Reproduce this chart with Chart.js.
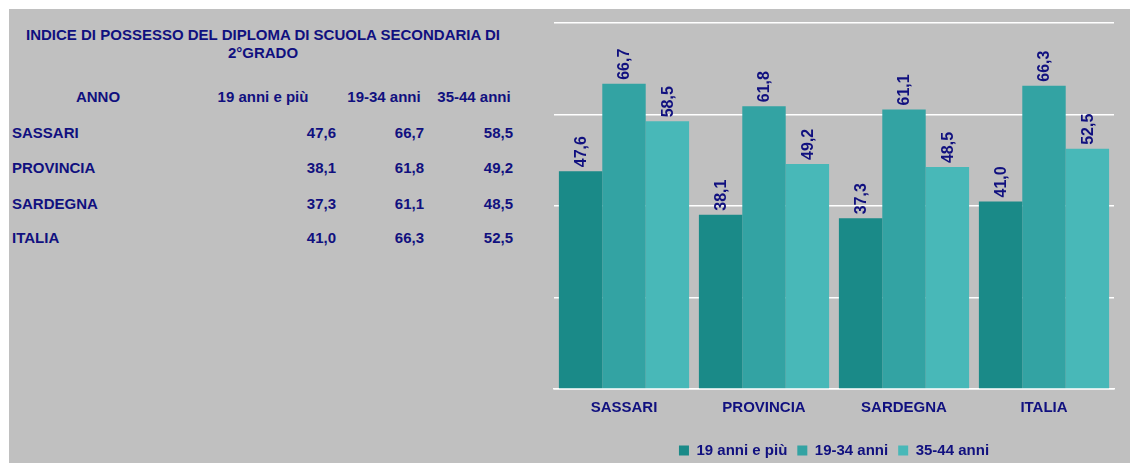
<!DOCTYPE html>
<html>
<head>
<meta charset="utf-8">
<script src="https://cdn.jsdelivr.net/npm/chart.js@4/dist/chart.umd.min.js"></script>
<style>
  html, body { margin: 0; padding: 0; background: #ffffff; }
  body { width: 1130px; height: 463px; position: relative; overflow: hidden; }
  #panel { position: absolute; left: 9px; top: 9px; width: 1121px; height: 454px; background: #c0c0c0; }
  .t { position: absolute; font-family: "Liberation Sans", Arial, sans-serif; font-weight: bold; font-size: 15px; color: #10107f; white-space: nowrap; line-height: 18px; }
  #chartWrap { position: absolute; left: 530px; top: 9px; width: 600px; height: 459px; }
</style>
</head>
<body>
<div id="panel"></div>
<div id="table"></div>
<div id="chartWrap"><canvas id="c" width="600" height="459"></canvas></div>
<script>
const title1 = "INDICE DI POSSESSO DEL DIPLOMA DI SCUOLA SECONDARIA DI";
const title2 = "2°GRADO";
const rowHeader = "ANNO";
const categories = ["SASSARI", "PROVINCIA", "SARDEGNA", "ITALIA"];
const seriesNames = ["19 anni e più", "19-34 anni", "35-44 anni"];
const values19piu = [47.6, 38.1, 37.3, 41.0];
const values1934 = [66.7, 61.8, 61.1, 66.3];
const values3544 = [58.5, 49.2, 48.5, 52.5];
const seriesColors = ["#1a8a88", "#33a3a3", "#48b8b8"];
const yTicks = [0, 20, 40, 60, 80];

const textColor = '#10107f';
const fmt = v => v.toFixed(1).replace('.', ',');

// ---- left table (HTML text) ----
const tbl = document.getElementById('table');
function addText(txt, x, y, align) {
  const d = document.createElement('div');
  d.className = 't';
  d.textContent = txt;
  d.style.top = (y - 9) + 'px';
  if (align === 'center') { d.style.left = (x - 300) + 'px'; d.style.width = '600px'; d.style.textAlign = 'center'; }
  else if (align === 'right') { d.style.left = (x - 200) + 'px'; d.style.width = '200px'; d.style.textAlign = 'right'; }
  else { d.style.left = x + 'px'; }
  tbl.appendChild(d);
}
addText(title1, 263, 35, 'center');
addText(title2, 263, 53, 'center');
addText(rowHeader, 98, 97, 'center');
const headerCenters = [263, 384, 474];
seriesNames.forEach((s, i) => addText(s, headerCenters[i], 97, 'center'));
const rowYs = [133, 168, 204, 238];
const colRights = [336, 424, 513];
const allSeries = [values19piu, values1934, values3544];
categories.forEach((c, r) => {
  addText(c, 12, rowYs[r], 'left');
  allSeries.forEach((arr, k) => addText(fmt(arr[r]), colRights[k], rowYs[r], 'right'));
});

// ---- chart ----
const labelPlugin = {
  id: 'barLabels',
  afterDatasetsDraw(chart) {
    const ctx = chart.ctx;
    ctx.save();
    ctx.font = 'bold 16px "Liberation Sans", Arial, sans-serif';
    ctx.fillStyle = textColor;
    ctx.textAlign = 'left';
    ctx.textBaseline = 'middle';
    chart.data.datasets.forEach((ds, di) => {
      const meta = chart.getDatasetMeta(di);
      meta.data.forEach((bar, i) => {
        ctx.save();
        ctx.translate(bar.x + 1, bar.y - 4);
        ctx.rotate(-Math.PI / 2);
        ctx.fillText(fmt(ds.data[i]), 0, 0);
        ctx.restore();
      });
    });
    ctx.restore();
  }
};

new Chart(document.getElementById('c'), {
  type: 'bar',
  data: {
    labels: categories,
    datasets: allSeries.map((arr, k) => ({
      label: seriesNames[k],
      data: arr,
      backgroundColor: seriesColors[k],
      borderWidth: 0,
      categoryPercentage: 0.93,
      barPercentage: 1.0
    }))
  },
  options: {
    responsive: false,
    animation: false,
    layout: { padding: { left: 24, right: 16, top: 14, bottom: 0 } },
    scales: {
      y: {
        min: 0, max: 80,
        afterBuildTicks: axis => { axis.ticks = yTicks.map(v => ({ value: v })); },
        ticks: { display: false },
        grid: { color: '#ffffff', lineWidth: 1.5, drawTicks: false },
        border: { display: false }
      },
      x: {
        grid: { display: false, drawTicks: false },
        border: { display: true, color: '#ffffff', width: 1.5 },
        afterFit: axis => { axis.height = 44; },
        ticks: {
          color: textColor,
          padding: 10,
          font: { family: '"Liberation Sans", Arial, sans-serif', weight: 'bold', size: 15 }
        }
      }
    },
    plugins: {
      legend: {
        position: 'bottom',
        labels: {
          color: textColor,
          boxWidth: 10,
          boxHeight: 10,
          padding: 10,
          font: { family: '"Liberation Sans", Arial, sans-serif', weight: 'bold', size: 15 }
        }
      },
      tooltip: { enabled: false }
    }
  },
  plugins: [labelPlugin]
});
</script>
</body>
</html>
